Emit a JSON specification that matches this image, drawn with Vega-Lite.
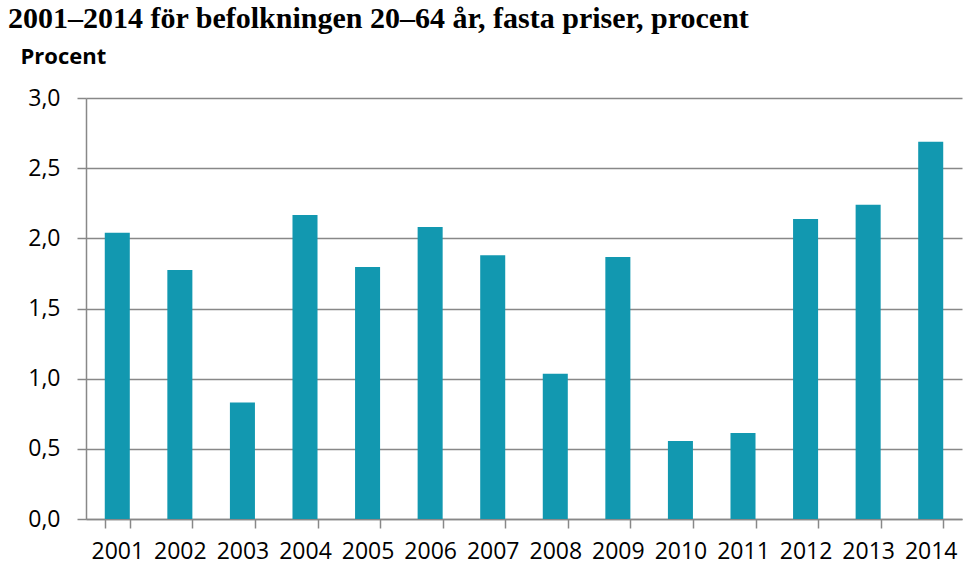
{
  "$schema": "https://vega.github.io/schema/vega-lite/v6.json",
  "width": 876,
  "height": 421,
  "autosize": {"type": "none"},
  "padding": {"left": 86, "top": 98, "right": 17, "bottom": 59},
  "background": "white",
  "title": {
    "text": "2001–2014 för befolkningen 20–64 år, fasta priser, procent",
    "anchor": "start",
    "frame": "group",
    "font": "Liberation Serif",
    "fontSize": 30,
    "fontWeight": "bold",
    "color": "#000000",
    "dx": -78,
    "dy": 17,
    "baseline": "alphabetic"
  },
  "data": {
    "values": [
      {"year": "2001", "value": 2.04},
      {"year": "2002", "value": 1.775},
      {"year": "2003", "value": 0.83},
      {"year": "2004", "value": 2.167},
      {"year": "2005", "value": 1.796},
      {"year": "2006", "value": 2.08},
      {"year": "2007", "value": 1.88},
      {"year": "2008", "value": 1.035},
      {"year": "2009", "value": 1.867},
      {"year": "2010", "value": 0.556},
      {"year": "2011", "value": 0.612},
      {"year": "2012", "value": 2.137},
      {"year": "2013", "value": 2.24},
      {"year": "2014", "value": 2.688}
    ]
  },
  "mark": {"type": "bar", "color": "#1298B0"},
  "encoding": {
    "x": {
      "field": "year",
      "type": "ordinal",
      "scale": {"paddingInner": 0.6, "paddingOuter": 0.3},
      "axis": {
        "title": null,
        "labelAngle": 0,
        "tickBand": "extent",
        "tickSize": 9,
        "tickColor": "#888888",
        "tickWidth": 1.5,
        "domainColor": "#888888",
        "domainWidth": 1.5,
        "labelFont": "Open Sans",
        "labelFontSize": 23,
        "labelColor": "#000000",
        "labelPadding": 12
      }
    },
    "y": {
      "field": "value",
      "type": "quantitative",
      "scale": {"domain": [0, 3]},
      "axis": {
        "values": [0, 0.5, 1, 1.5, 2, 2.5, 3],
        "labelExpr": "replace(format(datum.value, '.1f'), '.', ',')",
        "title": "Procent",
        "titleAngle": 0,
        "titleAlign": "left",
        "titleBaseline": "alphabetic",
        "titleX": -66,
        "titleY": -35,
        "titleFont": "Open Sans",
        "titleFontSize": 22,
        "titleFontWeight": "bold",
        "titleColor": "#000000",
        "grid": true,
        "gridColor": "#888888",
        "gridWidth": 1.5,
        "tickSize": 9,
        "tickColor": "#888888",
        "tickWidth": 1.5,
        "domainColor": "#888888",
        "domainWidth": 1.5,
        "labelFont": "Open Sans",
        "labelFontSize": 23,
        "labelColor": "#000000",
        "labelPadding": 17
      }
    }
  },
  "config": {"view": {"stroke": null}}
}
